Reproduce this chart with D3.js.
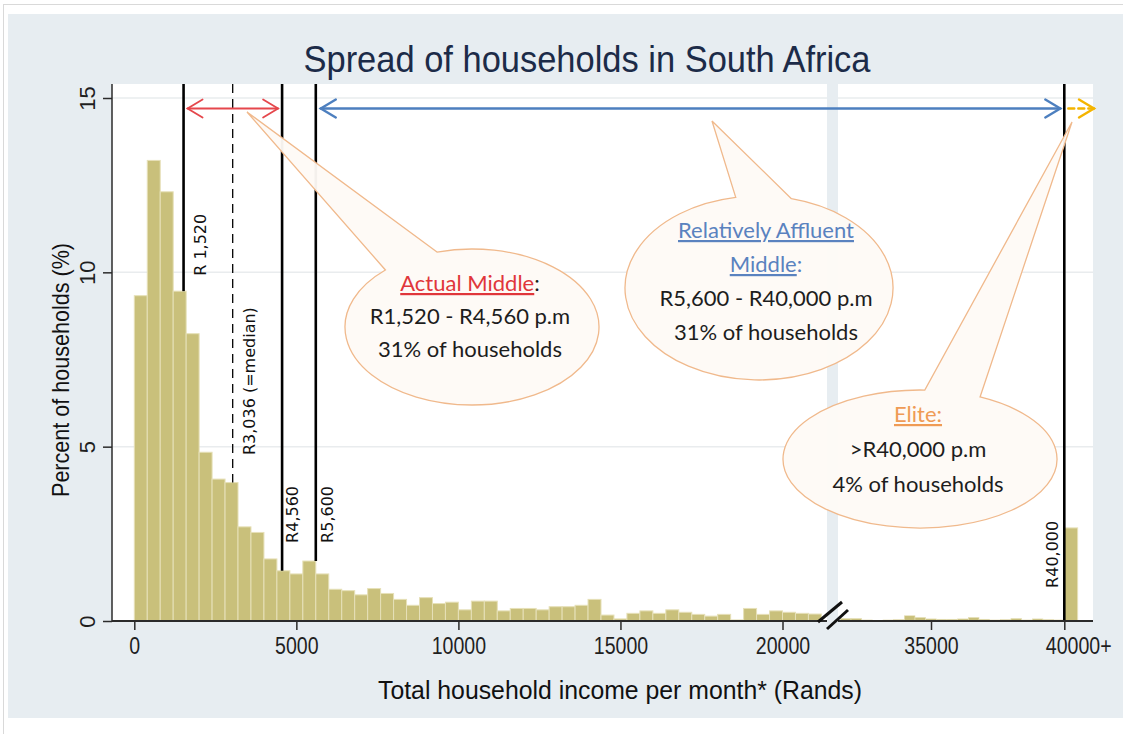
<!DOCTYPE html>
<html>
<head>
<meta charset="utf-8">
<script src="https://cdn.jsdelivr.net/npm/d3@7/dist/d3.min.js"></script>
<style>
  body { margin: 0; background: #ffffff; }
  svg { display: block; }
</style>
</head>
<body>
<svg id="chart" width="1123" height="738"></svg>
<script>
// ---------------------------------------------------------
// datos: porcentaje de hogares por intervalo de ingreso (R400)
// ---------------------------------------------------------

var binWidth = 400;

// panel izquierdo: 0 .. 21,200
var leftPct = [9.33, 13.21, 12.31, 9.46, 8.24, 4.84, 4.07, 3.97, 2.70, 2.54,
               1.78, 1.44, 1.35, 1.72, 1.35, 0.91, 0.87, 0.75, 0.93, 0.79,
               0.62, 0.45, 0.67, 0.50, 0.54, 0.32, 0.57, 0.57, 0.29, 0.36,
               0.36, 0.32, 0.41, 0.41, 0.45, 0.62, 0.17, 0.06, 0.22, 0.29,
               0.22, 0.32, 0.25, 0.19, 0.14, 0.19, 0.03, 0.36, 0.19, 0.29,
               0.25, 0.22, 0.20];

// panel derecho: 31,600 .. 40,000
var rightFirstBin = 31600;
var rightPct = [0.07, 0.07, 0.03, 0.02, 0.03, 0.04, 0.15, 0.10, 0.06, 0.05,
                0.05, 0.06, 0.10, 0.05, 0.03, 0.04, 0.07, 0.03, 0.06, 0.04, 0.03];

// ultimo intervalo abierto (40000+)
var eliteBin = 40000;
var eliteWidth = 500;
var elitePct = 2.67;

var yTicks = [0, 5, 10, 15];
var xTicksLeft = [0, 5000, 10000, 15000, 20000];
var xTicksRight = [35000, 40000];
var xTickLabelsRight = ["35000", "40000+"];

// lineas verticales de referencia
var markerValues = [1520, 3036, 4560, 5600, 40000];
var markerLabels = ["R 1,520", "R3,036 (=median)", "R4,560", "R5,600", "R40,000"];
var markerDashed = [false, true, false, false, false];

// textos de las burbujas
var bubbleMiddle = ["R1,520 - R4,560 p.m", "31% of households"];
var bubbleAffluent = ["R5,600 - R40,000  p.m", "31% of households"];
var bubbleElite = [">R40,000 p.m", "4% of households"];

// ---------------------------------------------------------
// escalas
// ---------------------------------------------------------

var svg = d3.select("#chart");

var xL = d3.scaleLinear().domain([0, 20000]).range([134.3, 782.5]);
var xR = d3.scaleLinear().domain([35000, 40000]).range([931, 1064.3]);
var y  = d3.scaleLinear().domain([0, 15]).range([621, 98]);

var leftPanel = [112, 827];
var rightPanel = [838, 1093];
var plotTop = 84;

// valor de la barra que contiene x (para cortar las lineas)
function barAt(v) {
    if (v <= rightFirstBin) {
        var i = Math.floor((v - 1) / binWidth);
        return leftPct[i] || 0;
    }
    if (v > eliteBin) return elitePct;
    var j = Math.floor((v - 1 - rightFirstBin) / binWidth);
    return rightPct[j] || 0;
}
function xAny(v) { return v < 30000 ? xL(v) : xR(v); }

// texto "estrecho" como en Stata
function squeeze(sel, k) {
    sel.each(function() {
        var w = this.getComputedTextLength();
        d3.select(this).attr("textLength", w * k).attr("lengthAdjust", "spacingAndGlyphs");
    });
}
function fitTo(sel, len) {
    sel.attr("textLength", len).attr("lengthAdjust", "spacingAndGlyphs");
}

var stataFont = "'Liberation Sans', Arial, sans-serif";
var boxFont = "Lato, 'Open Sans', sans-serif";

// ---------------------------------------------------------
// fondo
// ---------------------------------------------------------

svg.append("rect").attr("x", 8).attr("y", 14).attr("width", 1115).attr("height", 704)
   .attr("fill", "#e7edf1");
svg.append("line").attr("x1", 4).attr("x2", 1123).attr("y1", 4.5).attr("y2", 4.5)
   .attr("stroke", "#d9d9d9");
svg.append("line").attr("x1", 3.5).attr("x2", 3.5).attr("y1", 4).attr("y2", 734)
   .attr("stroke", "#d9d9d9");

[leftPanel, rightPanel].forEach(function(p) {
    svg.append("rect").attr("x", p[0]).attr("y", plotTop)
       .attr("width", p[1] - p[0]).attr("height", y(0) - plotTop)
       .attr("fill", "#ffffff");
    // cuadricula
    svg.append("g").selectAll("line").data(yTicks.slice(1)).enter().append("line")
       .attr("x1", p[0]).attr("x2", p[1])
       .attr("y1", function(d) { return y(d); }).attr("y2", function(d) { return y(d); })
       .attr("stroke", "#e9ecee").attr("stroke-width", 1.5);
});

// ---------------------------------------------------------
// barras
// ---------------------------------------------------------

var barFill = "#c9c07b", barEdge = "#e6e0b8";

svg.append("g").selectAll("rect").data(leftPct).enter().append("rect")
   .attr("x", function(d, i) { return xL(i * binWidth); })
   .attr("width", xL(binWidth) - xL(0))
   .attr("y", function(d) { return y(d); })
   .attr("height", function(d) { return y(0) - y(d); })
   .attr("fill", barFill).attr("stroke", barEdge).attr("stroke-width", 1);

svg.append("g").selectAll("rect").data(rightPct).enter().append("rect")
   .attr("x", function(d, i) { return xR(rightFirstBin + i * binWidth); })
   .attr("width", xR(binWidth) - xR(0))
   .attr("y", function(d) { return y(d); })
   .attr("height", function(d) { return y(0) - y(d); })
   .attr("fill", barFill).attr("stroke", barEdge).attr("stroke-width", 0.6);

svg.append("rect")
   .attr("x", xR(eliteBin)).attr("width", xR(eliteBin + eliteWidth) - xR(eliteBin))
   .attr("y", y(elitePct)).attr("height", y(0) - y(elitePct))
   .attr("fill", barFill).attr("stroke", barEdge).attr("stroke-width", 1);

// ---------------------------------------------------------
// ejes
// ---------------------------------------------------------

var axisColor = "#2b2b2b";

var yAxis = d3.axisLeft(y).tickValues(yTicks).tickSize(9).tickSizeOuter(0);
var gy = svg.append("g").attr("transform", "translate(" + leftPanel[0] + ",0)").call(yAxis);
gy.select(".domain").remove();
gy.selectAll(".tick line").attr("stroke", axisColor).attr("stroke-width", 1.5);
gy.selectAll(".tick text")
  .attr("x", 0).attr("y", -17).attr("dy", 0)
  .attr("text-anchor", "middle").attr("transform", "rotate(-90)")
  .style("font-family", stataFont).style("font-size", "22px").attr("fill", "#1f1f1f");
svg.append("line").attr("x1", leftPanel[0]).attr("x2", leftPanel[0])
   .attr("y1", plotTop).attr("y2", y(0)).attr("stroke", axisColor).attr("stroke-width", 1.5);

var xAxisL = d3.axisBottom(xL).tickValues(xTicksLeft).tickSize(9).tickSizeOuter(0)
               .tickFormat(d3.format("d"));
var gxl = svg.append("g").attr("transform", "translate(0," + y(0) + ")").call(xAxisL);

var xAxisR = d3.axisBottom(xR).tickValues(xTicksRight).tickSize(9).tickSizeOuter(0)
               .tickFormat(function(d, i) { return xTickLabelsRight[i]; });
var gxr = svg.append("g").attr("transform", "translate(0," + y(0) + ")").call(xAxisR);

[gxl, gxr].forEach(function(g) {
    g.select(".domain").remove();
    g.selectAll(".tick line").attr("stroke", axisColor).attr("stroke-width", 1.5);
    g.selectAll(".tick text").attr("y", 15).attr("dy", "0.8em")
     .style("font-family", stataFont).style("font-size", "23px").attr("fill", "#1f1f1f");
});
gxr.selectAll(".tick text").filter(function(d) { return d === 40000; })
   .attr("text-anchor", "start").attr("x", -19);

[leftPanel, rightPanel].forEach(function(p) {
    svg.append("line").attr("x1", p[0]).attr("x2", p[1])
       .attr("y1", y(0)).attr("y2", y(0))
       .attr("stroke", axisColor).attr("stroke-width", 1.8);
});

// marca de corte //
var br = svg.append("g").attr("stroke", "#111").attr("stroke-width", 3);
br.append("line").attr("x1", leftPanel[1] - 9).attr("y1", y(0) + 1)
  .attr("x2", leftPanel[1] + 15).attr("y2", y(0) - 19);
br.append("line").attr("x1", leftPanel[1]).attr("y1", y(0) + 8)
  .attr("x2", leftPanel[1] + 21).attr("y2", y(0) - 11);

// titulos
var title = svg.append("text").attr("x", 587).attr("y", 72).attr("text-anchor", "middle")
   .style("font-family", stataFont).style("font-size", "36px").attr("fill", "#1c2b48")
   .text("Spread of households in South Africa");

var ytitle = svg.append("text")
   .attr("transform", "translate(69,370) rotate(-90)").attr("text-anchor", "middle")
   .style("font-family", stataFont).style("font-size", "24px").attr("fill", "#111")
   .text("Percent of households (%)");

var xtitle = svg.append("text").attr("x", 620).attr("y", 699).attr("text-anchor", "middle")
   .style("font-family", stataFont).style("font-size", "25px").attr("fill", "#111")
   .text("Total household income per month* (Rands)");

fitTo(title, 567);
fitTo(ytitle, 254);
fitTo(xtitle, 484);
squeeze(gxl.selectAll(".tick text"), 0.85);
squeeze(gxr.selectAll(".tick text"), 0.85);

// ---------------------------------------------------------
// lineas de referencia
// ---------------------------------------------------------

var labelAt = [9.9, 4.76, 2.24, 2.24, 0.95];
var labelDx = [22, 22, 16, 17, -6];

var gm = svg.append("g");
markerValues.forEach(function(v, i) {
    var xv = xAny(v);
    gm.append("line").attr("x1", xv).attr("x2", xv)
      .attr("y1", plotTop).attr("y2", y(barAt(v)))
      .attr("stroke", "#000").attr("stroke-width", markerDashed[i] ? 1.3 : 2.6)
      .attr("stroke-dasharray", markerDashed[i] ? "9,6" : null);
    gm.append("text")
      .attr("transform", "translate(" + (xv + labelDx[i]) + "," + y(labelAt[i]) + ") rotate(-90)")
      .attr("text-anchor", "start")
      .style("font-family", "'DejaVu Sans', sans-serif").style("font-size", "16px").attr("fill", "#111")
      .text(markerLabels[i]);
});

// ---------------------------------------------------------
// flechas
// ---------------------------------------------------------

var arrowY = 108.5;

function arrow(x1, x2, color, both, dash, w) {
    var g = svg.append("g").attr("stroke", color).attr("fill", "none")
               .attr("stroke-width", w).attr("stroke-linecap", "round");
    g.append("line").attr("x1", x1).attr("x2", x2).attr("y1", arrowY).attr("y2", arrowY)
     .attr("stroke-dasharray", dash);
    g.append("path").attr("d", "M" + (x2 - 15) + "," + (arrowY - 9) + "L" + x2 + "," + arrowY +
                              "L" + (x2 - 15) + "," + (arrowY + 9));
    if (both) {
        g.append("path").attr("d", "M" + (x1 + 15) + "," + (arrowY - 9) + "L" + x1 + "," + arrowY +
                                  "L" + (x1 + 15) + "," + (arrowY + 9));
    }
}
arrow(xL(1520) + 4, xL(4560) - 4, "#e5474c", true, null, 1.8);
arrow(xL(5600) + 5, xR(40000) - 4, "#4d7fbf", true, null, 2.4);
arrow(xR(40000) + 4, 1094, "#f4b400", false, "6,4", 2.4);

// ---------------------------------------------------------
// burbujas (callouts)
// ---------------------------------------------------------

function bubble(cx, cy, rx, ry, a1, a2, tip) {
    var r = Math.PI / 180;
    var p1 = [cx + rx * Math.cos(a1 * r), cy + ry * Math.sin(a1 * r)];
    var p2 = [cx + rx * Math.cos(a2 * r), cy + ry * Math.sin(a2 * r)];
    var d = "M" + p1 + "L" + tip + "L" + p2 + "A" + rx + "," + ry + " 0 1,0 " + p1 + "Z";
    svg.append("path").attr("d", d)
       .attr("fill", "#fefaf6").attr("fill-opacity", 0.96)
       .attr("stroke", "#f0b98c").attr("stroke-width", 1.3);
}

function lines(cx, y0, dy, items) {
    var t = svg.append("text").attr("text-anchor", "middle")
       .style("font-family", boxFont).style("font-size", "22px").attr("fill", "#1d1d1d");
    items.forEach(function(parts, i) {
        var first = true;
        parts.forEach(function(p) {
            var ts = t.append("tspan").text(p.t);
            if (first) { ts.attr("x", cx).attr("y", y0 + i * dy); first = false; }
            if (p.c) ts.attr("fill", p.c);
            if (p.u) ts.style("text-decoration", "underline");
        });
    });
}

bubble(472, 327, 127, 78, -106, -133, [247, 112]);
lines(470, 291, 33, [
    [{t: "Actual Middle", c: "#e0363b", u: true}, {t: ":"}],
    [{t: bubbleMiddle[0]}],
    [{t: bubbleMiddle[1]}]
]);

bubble(759, 288, 134, 92, -76, -100, [712, 121]);
lines(766, 238, 34, [
    [{t: "Relatively Affluent", c: "#5a82bf", u: true}],
    [{t: "Middle", c: "#5a82bf", u: true}, {t: ":", c: "#5a82bf"}],
    [{t: bubbleAffluent[0]}],
    [{t: bubbleAffluent[1]}]
]);

bubble(920, 459, 137, 69, -64, -88, [1072, 122]);
lines(918, 422, 35, [
    [{t: "Elite:", c: "#ef9b55", u: true}],
    [{t: bubbleElite[0]}],
    [{t: bubbleElite[1]}]
]);
</script>
</body>
</html>
